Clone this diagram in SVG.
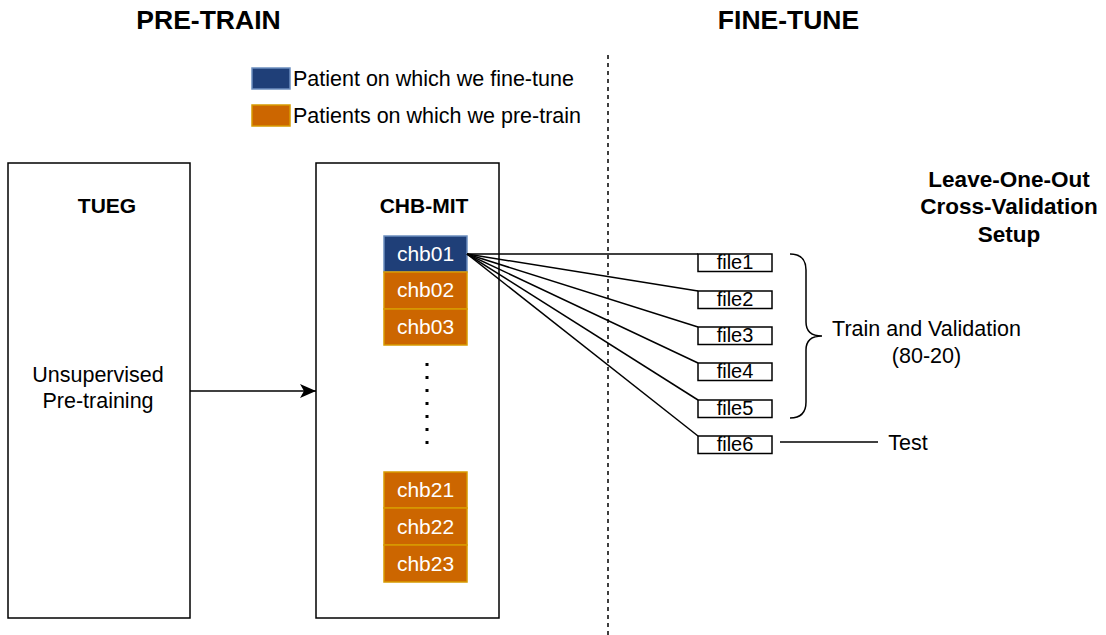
<svg xmlns="http://www.w3.org/2000/svg" width="1106" height="635" viewBox="0 0 1106 635">
  <defs>
    <style>
      text { font-family: "Liberation Sans", Arial, Helvetica, sans-serif; fill: #000; }
      .title { font-size: 26.5px; font-weight: bold; text-anchor: middle; }
      .bold { font-size: 21px; font-weight: bold; text-anchor: middle; }
      .setup { font-size: 22.5px; font-weight: bold; text-anchor: middle; }
      .lbl { font-size: 21.5px; text-anchor: middle; }
      .leg { font-size: 21.5px; }
      .chb { font-size: 21px; fill: #fff; text-anchor: middle; }
      .file { font-size: 20px; text-anchor: middle; }
      .box { fill: #fff; stroke: #000; stroke-width: 1.5; }
      .blue { fill: #1f3f78; stroke: #6c8ebf; stroke-width: 1.5; }
      .orange { fill: #cc6600; stroke: #d79b00; stroke-width: 1.5; }
      .fbox { fill: #fff; stroke: #000; stroke-width: 1.5; }
      .link { fill: none; stroke: #000; stroke-width: 1.5; }
    </style>
    <marker id="arrow" viewBox="0 0 16 14" refX="16" refY="7" markerWidth="16" markerHeight="14" markerUnits="userSpaceOnUse" orient="auto">
      <path d="M0,0 L16,7 L0,14 L4,7 Z" fill="#000"/>
    </marker>
  </defs>

  <!-- section headings -->
  <text class="title" x="208.5" y="29">PRE-TRAIN</text>
  <text class="title" x="788.5" y="29">FINE-TUNE</text>
  <line x1="608" y1="55" x2="608" y2="635" stroke="#000" stroke-width="1.5" stroke-dasharray="4 4"/>

  <!-- legend -->
  <g id="legend">
    <rect class="blue" x="252" y="68" width="38" height="21"/>
    <text class="leg" x="293" y="86">Patient on which we fine-tune</text>
    <rect class="orange" x="252" y="105" width="38" height="21"/>
    <text class="leg" x="293" y="123">Patients on which we pre-train</text>
  </g>

  <!-- TUEG dataset -->
  <g id="tueg">
    <rect class="box" x="8" y="163" width="182" height="455"/>
    <text class="bold" x="107" y="213">TUEG</text>
    <text class="lbl" x="98" y="382">Unsupervised</text>
    <text class="lbl" x="98" y="408">Pre-training</text>
  </g>

  <!-- CHB-MIT dataset -->
  <g id="chbmit">
    <rect class="box" x="316" y="163" width="183" height="455"/>
    <text class="bold" x="424" y="213">CHB-MIT</text>
  </g>

  <g id="chb01"><rect class="blue" x="384" y="236" width="83" height="36"/><text class="chb" x="425.5" y="261">chb01</text></g>
  <g id="chb02"><rect class="orange" x="384" y="272" width="83" height="37"/><text class="chb" x="425.5" y="297">chb02</text></g>
  <g id="chb03"><rect class="orange" x="384" y="309" width="83" height="36"/><text class="chb" x="425.5" y="334">chb03</text></g>
  <line x1="427" y1="363" x2="427" y2="452" stroke="#000" stroke-width="3" stroke-dasharray="3 10"/>
  <g id="chb21"><rect class="orange" x="384" y="472" width="83" height="36"/><text class="chb" x="425.5" y="497">chb21</text></g>
  <g id="chb22"><rect class="orange" x="384" y="508" width="83" height="37"/><text class="chb" x="425.5" y="534">chb22</text></g>
  <g id="chb23"><rect class="orange" x="384" y="545" width="83" height="37"/><text class="chb" x="425.5" y="571">chb23</text></g>

  <!-- cross-validation files -->
  <g id="file1"><rect class="fbox" x="698" y="254" width="74" height="17.5"/><text class="file" x="735" y="269">file1</text></g>
  <g id="file2"><rect class="fbox" x="698" y="291" width="74" height="17.5"/><text class="file" x="735" y="306">file2</text></g>
  <g id="file3"><rect class="fbox" x="698" y="327" width="74" height="17.5"/><text class="file" x="735" y="342">file3</text></g>
  <g id="file4"><rect class="fbox" x="698" y="363" width="74" height="17.5"/><text class="file" x="735" y="378">file4</text></g>
  <g id="file5"><rect class="fbox" x="698" y="400" width="74" height="17.5"/><text class="file" x="735" y="415">file5</text></g>
  <g id="file6"><rect class="fbox" x="698" y="436" width="74" height="17.5"/><text class="file" x="735" y="451">file6</text></g>

  <!-- setup description -->
  <g id="setup">
    <text class="setup" x="1009" y="187">Leave-One-Out</text>
    <text class="setup" x="1009" y="214">Cross-Validation</text>
    <text class="setup" x="1009" y="242">Setup</text>
  </g>
  <g id="trainval">
    <path class="link" d="M790,254 Q806,254 806,270 L806,322 Q806,336 822,336 Q806,336 806,350 L806,402 Q806,418 790,418"/>
    <text class="lbl" x="926.5" y="336">Train and Validation</text>
    <text class="lbl" x="926.5" y="363">(80-20)</text>
  </g>
  <g id="test">
    <text class="lbl" x="908" y="450">Test</text>
  </g>

  <!-- connectors -->
  <g id="connectors">
    <line class="link" x1="190" y1="391" x2="316" y2="391" marker-end="url(#arrow)"/>
    <line class="link" x1="467" y1="254" x2="698" y2="254"/>
    <line class="link" x1="467" y1="254" x2="698" y2="291"/>
    <line class="link" x1="467" y1="254" x2="698" y2="327"/>
    <line class="link" x1="467" y1="254" x2="698" y2="363"/>
    <line class="link" x1="467" y1="254" x2="698" y2="400"/>
    <line class="link" x1="467" y1="254" x2="698" y2="436"/>
    <line class="link" x1="780" y1="442" x2="878" y2="442"/>
  </g>
</svg>
